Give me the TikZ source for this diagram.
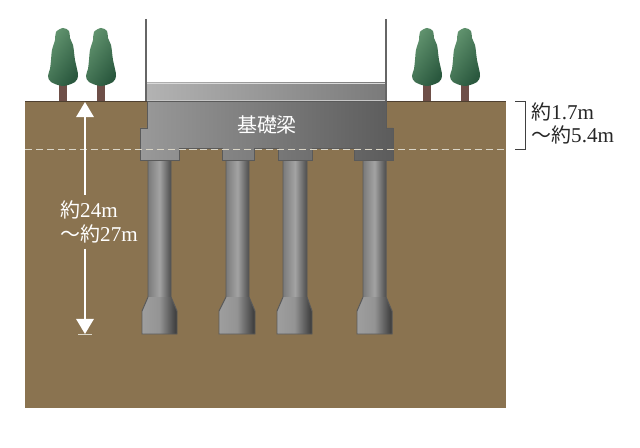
\documentclass[tikz,border=0pt]{standalone}
\usepackage{fontspec}
\usetikzlibrary{arrows.meta}
\setmainfont{Liberation Serif}
\newfontfamily\cjk{Noto Sans CJK JP}
\definecolor{soil}{HTML}{8A7350}
\definecolor{soilline}{HTML}{4F4030}
\definecolor{outline}{HTML}{5A5A5A}
\definecolor{dashline}{HTML}{DAD5C6}
\definecolor{trunk}{HTML}{6E4F48}
\definecolor{leaflight}{HTML}{62946F}
\definecolor{leafdark}{HTML}{2A583E}
\tikzset{
  pilebody/.style={left color=black!52, right color=black!70, middle color=black!36},
  bell/.style={left color=black!38, right color=black!78, middle color=black!42},
  dimtext/.style={font=\fontsize{15}{16.6}\selectfont, align=left, inner sep=0pt},
  pics/tree/.style={code={
    \fill[trunk] (-4,-17) rectangle (4,0);
    \shade[left color=leaflight, right color=leafdark, shading angle=55]
      plot[smooth cycle, tension=0.55] coordinates {(0,-73) (6,-70) (7,-63) (10,-56) (11,-49) (12,-41) (14,-32) (15,-25) (12,-19) (0,-15) (-12,-19) (-15,-25) (-13,-32) (-12,-41) (-11,-51) (-8,-61) (-7,-69)};
  }}
}
\begin{document}
\begin{tikzpicture}[x=0.25mm, y=-0.25mm]
  \useasboundingbox (0,0) rectangle (640,448);
  % Terreno
  \fill[soil] (25,101) rectangle (506,408);
  \draw[soilline, line width=0.6pt] (25,101) -- (506,101);

  % Alberi
  \foreach \tx in {63,101,427,465}
    \pic at (\tx,101) {tree};

  % Pali
  \foreach \pl/\pr/\bl/\br in {148/171/142/177, 226/249/219/255, 283/307/277/312, 363/386/357/392} {
    \shade[pilebody] (\pl,160) rectangle (\pr,298);
    \shade[bell] (\pl,297) -- (\pr,297) -- (\br,311) -- (\br,334) -- (\bl,334) -- (\bl,311) -- cycle;
    \draw[outline, line width=0.7pt] (\pl,160) -- (\pl,297) -- (\bl,311) -- (\bl,334) -- (\br,334) -- (\br,311) -- (\pr,297) -- (\pr,160);
  }

  % Fondazione
  \shade[left color=black!30, right color=black!52] (147,83) rectangle (385,101);
  \draw[black!15, line width=0.5pt] (147,83) -- (385,83);
  \draw[outline, left color=black!40, right color=black!64, line width=0.7pt]
    (147,101) -- (386,101) -- (386,128) -- (393,128) -- (393,160) -- (354,160) -- (354,148)
    -- (312,148) -- (312,160) -- (278,160) -- (278,148) -- (254,148) -- (254,160) -- (222,160)
    -- (222,148) -- (179,148) -- (179,160) -- (140,160) -- (140,128) -- (147,128) -- cycle;
  \draw[black!22, line width=0.8pt] (147,100.5) -- (385,100.5);
  \draw[black!60, line width=0.8pt] (146,19) -- (146,101);
  \draw[black!60, line width=0.8pt] (386,19) -- (386,101);
  \node[text=white, font=\cjk\fontsize{14.2}{16.4}\selectfont, inner sep=0pt] (beamlabel) at (267,125) {基礎梁};

  % Quote
  \draw[dashline, line width=0.7pt, dash pattern=on 5pt off 2.8pt] (25,149) -- (506,149);

  \coordinate (depthtop) at (85,102);
  \coordinate (depthbottom) at (85,334);
  \node[dimtext, text=white, anchor=north west, inner ysep=4pt] (depthlabel) at (60,195) {{\cjk\fontsize{14.2}{16.6}\selectfont 約}24m\\{\cjk\fontsize{14.2}{16.6}\selectfont ～約}27m};
  \draw[white, line width=1.2pt, {Triangle[width=12.4pt, length=10.7pt]}-] (depthtop) -- (depthlabel.north -| depthtop);
  \draw[white, line width=1.2pt, -{Triangle[width=12.4pt, length=10.7pt]}] (depthlabel.south -| depthbottom) -- (depthbottom);
  \coordinate (ticka) at (78,334);
  \coordinate (tickb) at (92,334);
  \draw[dashline, line width=0.5pt] (ticka) -- (tickb);

  \coordinate (brka) at (515,101);
  \coordinate (brkb) at (515,149);
  \draw[black!75, line width=0.7pt] (brka) -- ++(10,0) -- ++(0,48) -- (brkb);
  \node[dimtext, text=black!85, anchor=north west] (heightlabel) at (531,102) {{\cjk\fontsize{14.2}{16.6}\selectfont 約}1.7m\\{\cjk\fontsize{14.2}{16.6}\selectfont ～約}5.4m};
\end{tikzpicture}
\end{document}
